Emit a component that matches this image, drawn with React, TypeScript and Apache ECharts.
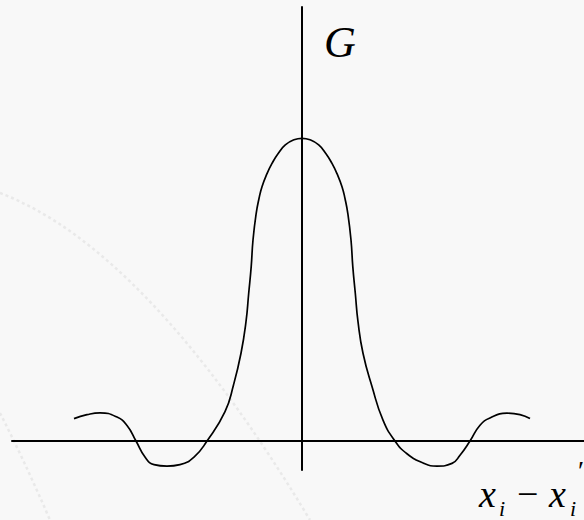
import React, { useEffect, useRef } from "react";
import * as echarts from "echarts";

// Separation x_i - x_i' (horizontal offsets from the origin)
const offsets: number[] = [
  -2.28, -2.15, -2.02, -1.85, -1.75, -1.66, -1.57, -1.48, -1.35, -1.22, -1.08,
  -0.95, -0.77, -0.685, -0.61, -0.56, -0.533, -0.508, -0.49, -0.458, -0.43,
  -0.4, -0.35, -0.3, -0.24, -0.167, -0.08, 0, 0.08, 0.167, 0.24, 0.3, 0.35,
  0.4, 0.43, 0.458, 0.49, 0.508, 0.533, 0.56, 0.61, 0.7, 0.81, 0.93, 1.05,
  1.22, 1.35, 1.5, 1.58, 1.68, 1.78, 1.88, 2.05, 2.18, 2.28,
];

// Kernel value G at each offset (peak normalised to 1)
const gValues: number[] = [
  0.074, 0.087, 0.093, 0.079, 0.051, 0, -0.053, -0.078, -0.083, -0.078, -0.053,
  0, 0.097, 0.185, 0.29, 0.394, 0.488, 0.576, 0.664, 0.752, 0.801, 0.84, 0.883,
  0.917, 0.949, 0.978, 0.995, 1, 0.995, 0.978, 0.949, 0.917, 0.883, 0.84,
  0.801, 0.752, 0.664, 0.576, 0.488, 0.394, 0.29, 0.18, 0.069, 0, -0.042,
  -0.074, -0.083, -0.074, -0.047, 0, 0.052, 0.076, 0.092, 0.087, 0.074,
];

const yLabel = "G";
const xLabelParts = ["x", "i", "\u2212", "x", "i", "\u2032"];

const SERIF = '"Liberation Serif", "Times New Roman", serif';

export default function App() {
  const ref = useRef<HTMLDivElement>(null);

  useEffect(() => {
    if (!ref.current) return;
    const chart = echarts.init(ref.current, null, { renderer: "svg" });

    const data = offsets.map((x, i) => [x, gValues[i]]);

    const text = (
      str: string,
      x: number,
      y: number,
      size: number,
      italic = true
    ) => ({
      type: "text",
      x,
      y,
      silent: true,
      style: {
        text: str,
        font: `${italic ? "italic " : ""}${size}px ${SERIF}`,
        fill: "#000",
        textAlign: "left",
        textVerticalAlign: "middle",
      },
    });

    // faint dashed arcs in the background
    const faintArc = (
      x1: number,
      y1: number,
      cx: number,
      cy: number,
      x2: number,
      y2: number
    ) => ({
      type: "bezierCurve",
      silent: true,
      z: -1,
      shape: { x1, y1, x2, y2, cpx1: cx, cpy1: cy },
      style: {
        stroke: "#e9e9e9",
        lineWidth: 2.5,
        lineDash: [3, 3],
        fill: null,
      },
    });

    chart.setOption({
      animation: false,
      backgroundColor: "#f8f8f8",
      grid: { left: 12, right: 0, top: 7, bottom: 50, containLabel: false },
      xAxis: {
        type: "value",
        min: -2.9,
        max: 2.82,
        axisLine: { onZero: true, lineStyle: { color: "#000", width: 2 } },
        axisTick: { show: false },
        axisLabel: { show: false },
        splitLine: { show: false },
      },
      yAxis: {
        type: "value",
        min: -0.0958,
        max: 1.4337,
        axisLine: { onZero: true, lineStyle: { color: "#000", width: 2 } },
        axisTick: { show: false },
        axisLabel: { show: false },
        splitLine: { show: false },
      },
      series: [
        {
          type: "line",
          data,
          smooth: 0.5,
          showSymbol: false,
          lineStyle: { color: "#000", width: 1.7 },
          silent: true,
        },
      ],
      graphic: [
        faintArc(0, 193, 147, 249, 310, 520),
        faintArc(0, 413, 25, 462, 50, 520),
        text(yLabel, 324, 42, 44),
        text(xLabelParts[0], 479, 494, 38),
        text(xLabelParts[1], 499, 508, 22),
        text(xLabelParts[2], 517, 494, 38, false),
        text(xLabelParts[3], 549, 494, 38),
        text(xLabelParts[4], 570, 508, 22),
        text(xLabelParts[5], 578, 470, 28, false),
      ],
    });

    return () => chart.dispose();
  }, []);

  return (
    <div
      ref={ref}
      style={{ position: "fixed", left: 0, top: 0, width: 584, height: 520 }}
    />
  );
}
